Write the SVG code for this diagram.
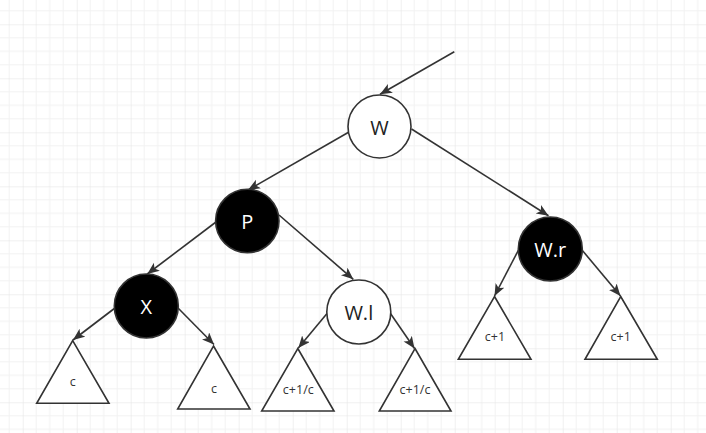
<svg xmlns="http://www.w3.org/2000/svg" width="706" height="433" viewBox="0 0 706 433">
<style>
.edge{stroke:#333;stroke-width:1.6;fill:none;marker-end:url(#arr)}
.wn{fill:#fff;stroke:#333;stroke-width:1.6}
.bn{fill:#000;stroke:#333;stroke-width:1.6}
.tri{fill:#fff;stroke:#333;stroke-width:1.6;stroke-linejoin:miter}
.lbl{font-family:"Open Sans","Noto Sans","DejaVu Sans",sans-serif;font-size:20px;text-anchor:middle;dominant-baseline:central}
.lw{fill:#222}
.lb{fill:#fff}
.tl{font-family:"Open Sans","Noto Sans","DejaVu Sans",sans-serif;font-size:12.5px;fill:#333;text-anchor:middle;dominant-baseline:central}
</style>
<defs>
<pattern id="grid" patternUnits="userSpaceOnUse" x="22.7" y="24.3" width="54" height="54">
<rect width="54" height="54" fill="#fff"/>
<path d="M13.5 0V54M27 0V54M40.5 0V54M0 13.5H54M0 27H54M0 40.5H54" stroke="#f2f2f2" stroke-width="1"/>
<path d="M0 0V54M0 0H54" stroke="#e2e2e2" stroke-width="1"/>
</pattern>
<marker id="arr" markerUnits="userSpaceOnUse" markerWidth="14" markerHeight="12" refX="12" refY="5" orient="auto">
<path d="M0 0L12 5L0 10L3 5z" fill="#333"/>
</marker>
</defs>
<rect width="706" height="433" fill="url(#grid)"/>
<g id="connectors">
<line class="edge" x1="454.3" y1="51.7" x2="380" y2="94.3"/>
<line class="edge" x1="349" y1="132" x2="248" y2="190"/>
<line class="edge" x1="411.5" y1="129" x2="548.5" y2="215.7"/>
<line class="edge" x1="216" y1="222" x2="147.3" y2="274"/>
<line class="edge" x1="279" y1="215" x2="353.3" y2="279.3"/>
<line class="edge" x1="115" y1="308" x2="73" y2="340"/>
<line class="edge" x1="178" y1="308" x2="214" y2="344.5"/>
<line class="edge" x1="327" y1="313.5" x2="298.3" y2="348"/>
<line class="edge" x1="390.5" y1="313.5" x2="414.5" y2="348.5"/>
<line class="edge" x1="518.5" y1="250" x2="494.5" y2="296"/>
<line class="edge" x1="582" y1="250" x2="620.5" y2="296"/>
</g>
<g id="node-W"><circle class="wn" cx="379.5" cy="126.5" r="31.5"/><text class="lbl lw" x="379.5" y="127">W</text></g>
<g id="node-P"><circle class="bn" cx="247.3" cy="221" r="31.7"/><text class="lbl lb" x="247.3" y="221.5">P</text></g>
<g id="node-X"><circle class="bn" cx="146.3" cy="306" r="32"/><text class="lbl lb" x="146.3" y="306.5">X</text></g>
<g id="node-Wl"><circle class="wn" cx="358.8" cy="312" r="32"/><text class="lbl lw" x="358.8" y="312.5">W.l</text></g>
<g id="node-Wr"><circle class="bn" cx="550.3" cy="249" r="32"/><text class="lbl lb" x="550.3" y="249.5">W.r</text></g>
<g id="tri-1"><polygon class="tri" points="72.7,340.7 109,403.3 36.7,403.3"/><text class="tl" x="72.7" y="381.7">c</text></g>
<g id="tri-2"><polygon class="tri" points="213.5,346 250,409 177.7,409"/><text class="tl" x="214" y="388.3">c</text></g>
<g id="tri-3"><polygon class="tri" points="297.8,348.5 334,411 261.7,411"/><text class="tl" x="298.3" y="389">c+1/c</text></g>
<g id="tri-4"><polygon class="tri" points="415,348.5 451,411 379.3,411"/><text class="tl" x="415" y="389">c+1/c</text></g>
<g id="tri-5"><polygon class="tri" points="494.5,296.5 531,359.3 458.3,359.3"/><text class="tl" x="495" y="336.7">c+1</text></g>
<g id="tri-6"><polygon class="tri" points="620.7,296.5 657.3,359.3 585,359.3"/><text class="tl" x="620.7" y="336.7">c+1</text></g>
</svg>
